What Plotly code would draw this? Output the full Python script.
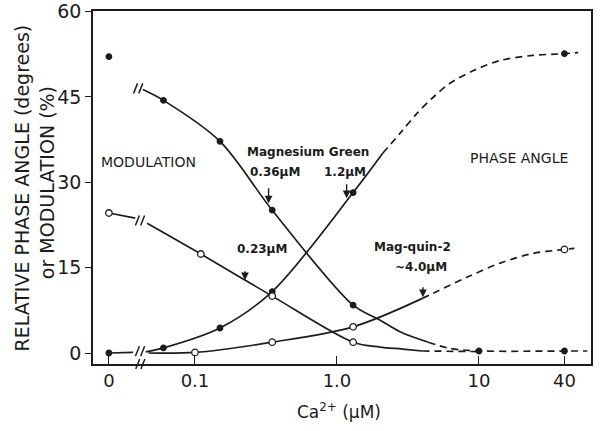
import math
import plotly.graph_objects as go

# ---------------- data (Ca2+ in uM, values in degrees or %) ----------------
ZERO = 10 ** -1.606          # where "0" Ca2+ is drawn (left of the axis break)
BREAK = 10 ** -1.385         # axis break position

x_tick_vals = [ZERO, 0.1, 1.0, 10, 40]
x_tick_text = ["0", "0.1", "1.0", "10", "40"]
y_tick_vals = [0, 15, 30, 45, 60]

# Magnesium Green - modulation (filled circles)
mg_mod_pts_x = [ZERO, 0.06, 0.15, 0.35, 1.3, 10, 40]
mg_mod_pts_y = [52.1, 44.4, 37.2, 25.1, 8.4, 0.35, 0.35]
mg_mod_solid_x = [0.043, 0.06, 0.15, 0.35, 1.3, 2.0, 2.8, 4.4]
mg_mod_solid_y = [46.3, 44.4, 37.2, 25.1, 8.4, 5.8, 3.7, 1.9]
mg_mod_dash_x = [4.4, 6.0, 9.1, 40, 58]
mg_mod_dash_y = [1.9, 0.9, 0.4, 0.35, 0.35]

# Magnesium Green - phase angle (filled circles)
mg_ph_pts_x = [ZERO, 0.06, 0.15, 0.35, 1.3, 40]
mg_ph_pts_y = [0.0, 0.9, 4.4, 10.8, 28.2, 52.6]
ph_stub_x = [ZERO, 0.0366]
ph_stub_y = [0.0, 0.1]
mg_ph_solid_x = [0.045, 0.06, 0.15, 0.35, 1.3, 2.1]
mg_ph_solid_y = [0.2, 0.9, 4.4, 10.8, 28.2, 35.1]
mg_ph_dash_x = [2.1, 2.78, 3.66, 4.74, 6.25, 9.08, 14.1, 24, 40, 50]
mg_ph_dash_y = [35.1, 38.6, 42.1, 44.9, 47.4, 49.6, 51.4, 52.3, 52.6, 52.8]

# Mag-quin-2 - modulation (open circles)
mq_mod_pts_x = [ZERO, 0.11, 0.35, 1.3]
mq_mod_pts_y = [24.6, 17.4, 10.0, 1.9]
mq_mod_stub_x = [ZERO, 0.038]
mq_mod_stub_y = [24.6, 23.7]
mq_mod_solid_x = [0.046, 0.11, 0.35, 1.3, 2.0, 2.9, 4.0]
mq_mod_solid_y = [22.8, 17.4, 10.0, 1.9, 1.05, 0.7, 0.35]
mq_mod_dash_x = [4.0, 10]
mq_mod_dash_y = [0.35, 0.25]

# Mag-quin-2 - phase angle (open circles)
mq_ph_pts_x = [0.1, 0.35, 1.3, 40]
mq_ph_pts_y = [0.1, 1.9, 4.6, 18.2]
mq_ph_solid_x = [0.047, 0.1, 0.35, 1.3, 4.0]
mq_ph_solid_y = [0.0, 0.1, 1.9, 4.6, 9.6]
mq_ph_dash_x = [4.0, 4.5, 8.2, 14.1, 24, 40, 47]
mq_ph_dash_y = [9.6, 10.2, 13.3, 15.8, 17.5, 18.2, 18.4]

# arrows: (concentration, value at tip, arrow length px)
arrow_x = [0.33, 1.17, 0.225, 4.03]
arrow_y = [26.3, 27.2, 12.8, 9.8]
arrow_len = [25, 24, 19, 20]

# break marks: (concentration, value) centres
break_x = [10 ** -1.40, 10 ** -1.387, 10 ** -1.387, BREAK]
break_y = [46.5, 23.3, 0.3, -1.93]

# ---------------- styling ----------------
INK = "#1c1c1c"
FONT = "DejaVu Sans"
LW = 1.7
X_RANGE = [-1.718, 1.789]
Y_RANGE = [-1.93, 60.1]
PLOT_W, PLOT_H = 498, 353

fig = go.Figure()


def line(x, y, dash="solid", width=LW, shape="spline"):
    fig.add_trace(go.Scatter(
        x=x, y=y, mode="lines", showlegend=False, hoverinfo="skip",
        line=dict(color=INK, width=width, shape=shape, smoothing=0.9, dash=dash)))


def pts(x, y, filled):
    fig.add_trace(go.Scatter(
        x=x, y=y, mode="markers", showlegend=False,
        marker=dict(symbol="circle", size=5.5 if filled else 6.5,
                    color=INK if filled else "white",
                    line=dict(color=INK, width=1.3))))


DASH = "7px,5px"
line(mg_mod_solid_x, mg_mod_solid_y)
line(mg_mod_dash_x, mg_mod_dash_y, DASH)
line(ph_stub_x, ph_stub_y)
line(mg_ph_solid_x, mg_ph_solid_y)
line(mg_ph_dash_x, mg_ph_dash_y, DASH)
line(mq_mod_stub_x, mq_mod_stub_y)
line(mq_mod_solid_x, mq_mod_solid_y)
line(mq_mod_dash_x, mq_mod_dash_y, DASH)
line(mq_ph_solid_x, mq_ph_solid_y)
line(mq_ph_dash_x, mq_ph_dash_y, DASH)

pts(mg_mod_pts_x, mg_mod_pts_y, True)
pts(mg_ph_pts_x, mg_ph_pts_y, True)
pts(mq_mod_pts_x, mq_mod_pts_y, False)
pts(mq_ph_pts_x, mq_ph_pts_y, False)

# "//" break marks as shapes (paper coordinates derived from data centres)
shapes = []
for xc, yc in zip(break_x, break_y):
    px = (math.log10(xc) - X_RANGE[0]) / (X_RANGE[1] - X_RANGE[0])
    py = (yc - Y_RANGE[0]) / (Y_RANGE[1] - Y_RANGE[0])
    for off in (-2.6, 2.6):
        shapes.append(dict(type="line", xref="paper", yref="paper",
                           x0=px + (off - 2.0) / PLOT_W, x1=px + (off + 2.0) / PLOT_W,
                           y0=py - 5.0 / PLOT_H, y1=py + 5.0 / PLOT_H,
                           line=dict(color=INK, width=1.5)))

ann = []
# arrows
for xv, yv, ln in zip(arrow_x, arrow_y, arrow_len):
    ann.append(dict(x=math.log10(xv), y=yv, xref="x", yref="y", text=" ",
                    showarrow=True, ax=0, ay=-ln, arrowhead=2, arrowsize=1.1,
                    arrowwidth=1.4, arrowcolor=INK, standoff=0))


def label(text, xv, yv, size=12, bold=True):
    ann.append(dict(x=math.log10(xv), y=yv, xref="x", yref="y",
                    text=f"<b>{text}</b>" if bold else text, showarrow=False,
                    xanchor="center", yanchor="middle",
                    font=dict(family=FONT, size=size, color=INK)))


label("Magnesium Green", 10 ** -0.204, 35.4)
label("0.36µM", 10 ** -0.437, 31.8)
label("1.2µM", 10 ** 0.056, 31.8)
label("0.23µM", 10 ** -0.528, 18.2)
label("Mag-quin-2", 10 ** 0.535, 18.6)
label("~4.0µM", 10 ** 0.592, 15.1)
label("MODULATION", 10 ** -1.324, 33.5, size=14, bold=False)
label("PHASE ANGLE", 10 ** 1.282, 34.2, size=14, bold=False)

# axis titles
ann.append(dict(x=-0.1426, y=0.50, xref="paper", yref="paper", textangle=-90,
                text="RELATIVE PHASE ANGLE (degrees)", showarrow=False,
                xanchor="center", yanchor="middle",
                font=dict(family=FONT, size=19, color=INK)))
ann.append(dict(x=-0.0924, y=0.515, xref="paper", yref="paper", textangle=-90,
                text="or MODULATION (%)", showarrow=False,
                xanchor="center", yanchor="middle",
                font=dict(family=FONT, size=19, color=INK)))
ann.append(dict(x=0.494, y=-0.133, xref="paper", yref="paper",
                text="Ca<sup>2+</sup> (µM)", showarrow=False,
                xanchor="center", yanchor="middle",
                font=dict(family=FONT, size=17, color=INK)))

fig.update_layout(
    width=600, height=431,
    margin=dict(l=93, r=9, t=11, b=67, autoexpand=False),
    paper_bgcolor="white", plot_bgcolor="white",
    annotations=ann, shapes=shapes,
    xaxis=dict(type="log", range=X_RANGE, tickvals=x_tick_vals,
               ticktext=x_tick_text, ticks="inside", ticklen=8, tickwidth=1.4,
               tickcolor=INK, showline=True, linecolor=INK, linewidth=1.6,
               mirror=True, showgrid=False, zeroline=False, automargin=False,
               tickfont=dict(family=FONT, size=18, color=INK)),
    yaxis=dict(range=Y_RANGE, tickvals=y_tick_vals, ticks="outside",
               ticklen=6, tickwidth=1.4, tickcolor=INK, showline=True,
               linecolor=INK, linewidth=1.6, mirror=True, showgrid=False,
               zeroline=False, automargin=False,
               tickfont=dict(family=FONT, size=19, color=INK)),
)

fig.write_html("out.html", config={"displayModeBar": False},
               post_script="document.body.style.margin='0';")
